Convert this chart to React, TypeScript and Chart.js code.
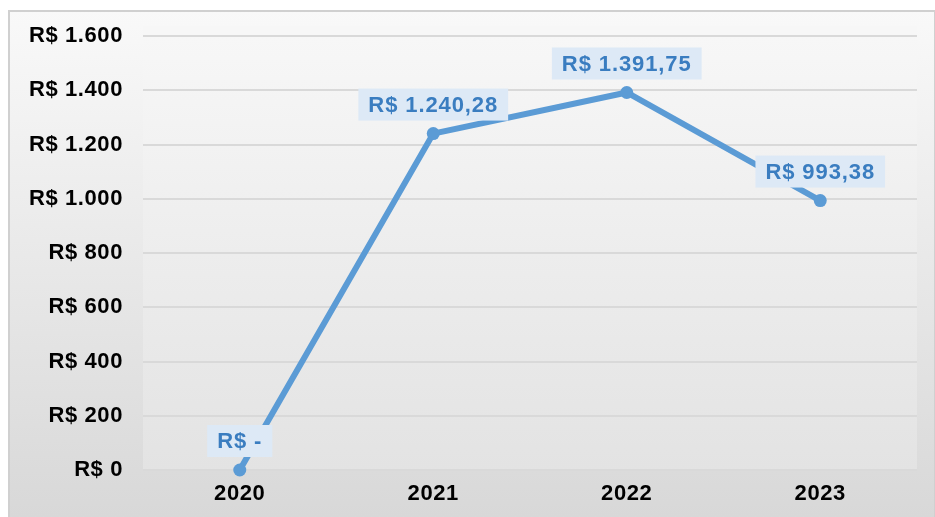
import React, { useEffect, useRef } from "react";
import { Chart, registerables } from "chart.js";

Chart.register(...registerables);

const categories = ["2020", "2021", "2022", "2023"];
const values = [0, 1240.28, 1391.75, 993.38];
const dataLabels = ["R$ -", "R$ 1.240,28", "R$ 1.391,75", "R$ 993,38"];
const yTickLabels: Record<number, string> = {
  0: "R$ 0",
  200: "R$ 200",
  400: "R$ 400",
  600: "R$ 600",
  800: "R$ 800",
  1000: "R$ 1.000",
  1200: "R$ 1.200",
  1400: "R$ 1.400",
  1600: "R$ 1.600",
};

const FONT = "'Liberation Sans', Arial, sans-serif";

const bgPlugin = {
  id: "bgPlugin",
  beforeDraw(chart: any) {
    const { ctx, width, height, chartArea } = chart;
    ctx.save();
    ctx.fillStyle = "#ffffff";
    ctx.fillRect(0, 0, width, height);
    const g = ctx.createLinearGradient(0, 10, 0, height);
    g.addColorStop(0, "#f9f9f9");
    g.addColorStop(1, "#d8d8d8");
    ctx.fillStyle = g;
    ctx.fillRect(8, 10, width - 8, height - 10);
    ctx.strokeStyle = "#d0d0d0";
    ctx.lineWidth = 2;
    ctx.strokeRect(9, 11, width - 9, height - 10);
    const g2 = ctx.createLinearGradient(0, chartArea.top, 0, chartArea.bottom);
    g2.addColorStop(0, "#f7f7f7");
    g2.addColorStop(1, "#e3e3e3");
    ctx.fillStyle = g2;
    ctx.fillRect(chartArea.left, chartArea.top - 10, chartArea.right - chartArea.left, chartArea.bottom - chartArea.top + 10);
    ctx.restore();
    ctx.letterSpacing = "0.6px";
  },
};

const labelPlugin = {
  id: "labelPlugin",
  afterDatasetsDraw(chart: any) {
    const { ctx } = chart;
    const meta = chart.getDatasetMeta(0);
    ctx.save();
    ctx.font = `bold 22px ${FONT}`;
    ctx.letterSpacing = "0.9px";
    ctx.textAlign = "center";
    ctx.textBaseline = "middle";
    meta.data.forEach((pt: any, i: number) => {
      const text = dataLabels[i];
      const w = ctx.measureText(text).width + 20;
      const h = 32;
      const cx = pt.x;
      const cy = pt.y - 13 - h / 2;
      ctx.fillStyle = "#dde9f6";
      ctx.fillRect(cx - w / 2, cy - h / 2, w, h);
      ctx.fillStyle = "#3a7dc0";
      ctx.fillText(text, cx, cy + 1);
    });
    ctx.restore();
  },
};

export default function App() {
  const ref = useRef<HTMLCanvasElement>(null);
  useEffect(() => {
    if (!ref.current) return;
    const chart = new Chart(ref.current, {
      type: "line",
      data: {
        labels: categories,
        datasets: [
          {
            data: values,
            borderColor: "#5b9bd5",
            backgroundColor: "#5b9bd5",
            borderWidth: 6,
            pointRadius: 6.5,
            pointHoverRadius: 6.5,
            pointBackgroundColor: "#5b9bd5",
            pointBorderWidth: 0,
            tension: 0,
            clip: false as any,
          },
        ],
      },
      options: {
        animation: false,
        responsive: false,
        devicePixelRatio: 1,
        layout: { padding: { top: 36, right: 18, left: 0, bottom: 0 } },
        plugins: { legend: { display: false }, tooltip: { enabled: false } },
        scales: {
          x: {
            offset: true,
            grid: { display: false, drawTicks: false },
            border: { display: false },
            ticks: {
              color: "#000000",
              font: { family: FONT, size: 22, weight: "bold" },
              padding: 11,
            },
            afterFit(scale: any) {
              scale.height = 47;
            },
          },
          y: {
            min: 0,
            max: 1600,
            grid: { color: "#d9d9d9", lineWidth: 2, drawTicks: false },
            border: { display: false },
            ticks: {
              stepSize: 200,
              color: "#000000",
              font: { family: FONT, size: 22, weight: "bold" },
              padding: 20,
              callback: (v: any) => yTickLabels[v as number] ?? "",
            },
            afterFit(scale: any) {
              scale.width = 143;
            },
          },
        },
      },
      plugins: [bgPlugin, labelPlugin],
    });
    return () => chart.destroy();
  }, []);
  return (
    <div style={{ position: "fixed", left: 0, top: 0, width: 935, height: 517 }}>
      <canvas ref={ref} width={935} height={517} style={{ display: "block" }} />
    </div>
  );
}
